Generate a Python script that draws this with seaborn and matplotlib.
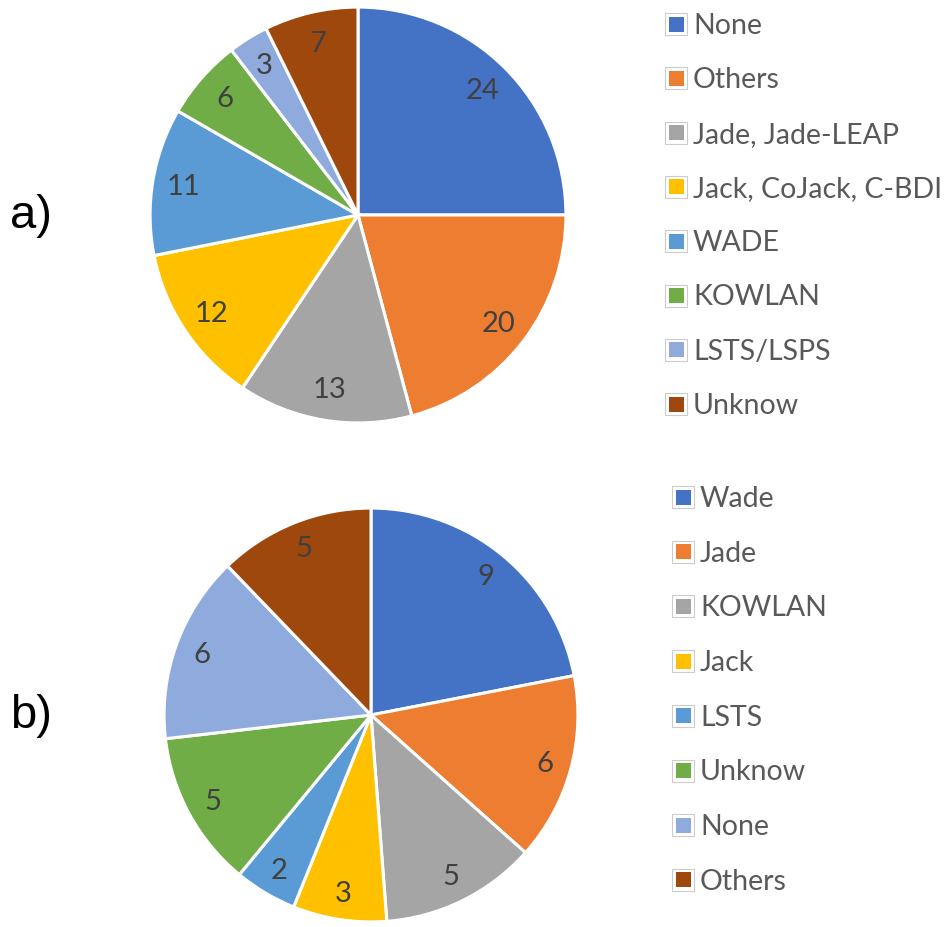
import matplotlib
matplotlib.use("Agg")
import matplotlib.pyplot as plt
import seaborn as sns

# data
labels_a = ['None', 'Others', 'Jade, Jade-LEAP', 'Jack, CoJack, C-BDI',
            'WADE', 'KOWLAN', 'LSTS/LSPS', 'Unknow']
values_a = [24, 20, 13, 12, 11, 6, 3, 7]

labels_b = ['Wade', 'Jade', 'KOWLAN', 'Jack', 'LSTS', 'Unknow', 'None', 'Others']
values_b = [9, 6, 5, 3, 2, 5, 6, 5]

office = ['#4472C4', '#ED7D31', '#A5A5A5', '#FFC000',
          '#5B9BD5', '#70AD47', '#8FAADC', '#9E480E']

sns.set_theme(style="white")
palette = sns.color_palette(office)
plt.rcParams['font.family'] = ['Lato', 'DejaVu Sans']

W, H = 946, 928
fig = plt.figure(figsize=(W / 100, H / 100), dpi=100)
fig.patch.set_facecolor("white")


def draw_pie(cx, cy, r, values, labels, lab_x, lab_y0, lab_dy, tag, pct_dist):
    ax = fig.add_axes([(cx - r) / W, (H - cy - r) / H, 2 * r / W, 2 * r / H])
    total = sum(values)
    ax.pie(values, colors=palette, startangle=90, counterclock=False,
           autopct=lambda p: f"{round(p * total / 100)}", pctdistance=pct_dist,
           wedgeprops=dict(edgecolor='white', linewidth=2.2),
           textprops=dict(color='#404040', fontsize=21))
    ax.set_xlim(-1.01, 1.01)
    ax.set_ylim(-1.01, 1.01)
    ax.set_aspect('equal')
    ax.axis('off')

    # legend drawn as a column of entries
    for i, (lab, col) in enumerate(zip(labels, palette)):
        y = lab_y0 + i * lab_dy
        fig.patches.append(plt.Rectangle(((lab_x - 11) / W, (H - y - 11) / H), 22 / W, 22 / H,
                                         transform=fig.transFigure, facecolor='white',
                                         edgecolor='#cccccc', linewidth=0.8))
        fig.patches.append(plt.Rectangle(((lab_x - 7.5) / W, (H - y - 7.5) / H), 15 / W, 15 / H,
                                         transform=fig.transFigure, facecolor=col,
                                         edgecolor='none'))
        fig.text((lab_x + 17) / W, (H - y - 1) / H, lab, fontsize=20.5, color='#595959',
                 va='center', ha='left')

    fig.text(10 / W, (H - cy) / H, tag, fontsize=34, color='black', va='center',
             ha='left', family=['Liberation Sans', 'DejaVu Sans'])


draw_pie(358, 216, 210, values_a, labels_a, 676, 25, 54.3, 'a)', 0.85)
draw_pie(371, 716, 209, values_b, labels_b, 683, 498, 54.7, 'b)', 0.87)

fig.savefig('out.png', dpi=100, facecolor='white')
